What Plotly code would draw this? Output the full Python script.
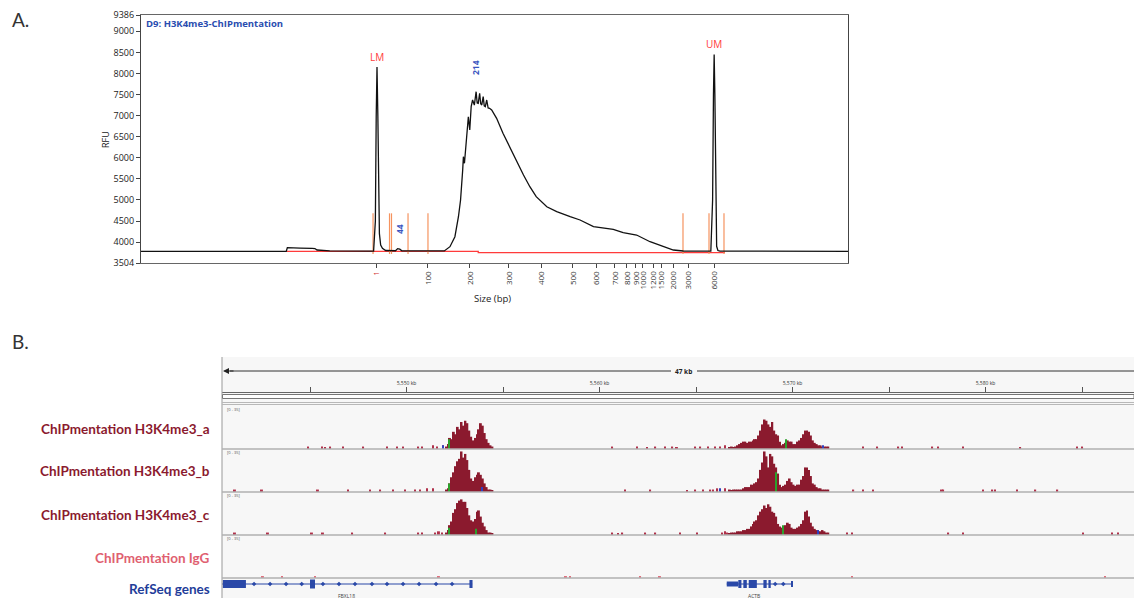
import plotly.graph_objects as go

W, H = 1134, 598


def fx(p):
    return p / W


def fy(p):
    return 1 - p / H


# ---------------- Panel A: electropherogram data ----------------
ladder_labels = ["1", "100", "200", "300", "400", "500", "600", "700", "800", "900",
                 "1000", "1200", "1500", "2000", "3000", "6000"]
ladder_migration = [33.24, 40.59, 46.53, 52.05, 56.58, 61.10, 64.36, 67.04, 68.74, 70.01,
                    71.0, 72.42, 73.55, 75.25, 77.37, 81.05]
rfu_ticks = [3504, 4000, 4500, 5000, 5500, 6000, 6500, 7000, 7500, 8000, 8500, 9000, 9386]

trace_mig = [0, 20.55, 20.7, 21.2, 22.5, 24.2, 24.6, 24.9, 25.3, 25.8, 26.7,
             32.9, 33.15, 33.27, 33.38, 33.5, 33.6, 33.72, 33.9, 34.15, 34.6,
             36.0, 36.3, 36.6, 36.9,
             42.9, 43.7, 44.4, 44.9, 45.2, 45.5, 45.6, 45.75, 46.1, 46.3, 46.5, 46.7, 46.9,
             47.15, 47.4, 47.55, 47.7, 47.9, 48.05, 48.2, 48.4, 48.55, 48.7, 48.9, 49.1, 49.3,
             49.6, 50.3, 51.2, 52.2, 53.1,
             54.1, 55.0, 55.9, 57.4, 58.8, 60.7, 62.1, 64.0, 65.4, 66.8, 68.2, 70.1, 72.0,
             73.9, 75.3, 76.7, 77.7, 78.4,
             80.6, 80.85, 80.97, 81.07, 81.17, 81.28, 81.42, 81.6, 81.9, 100]
trace_rfu = [3782, 3782, 3868, 3862, 3856, 3850, 3846, 3812, 3805, 3808, 3790,
             3788, 4500, 7000, 8150, 7000, 5200, 4200, 3930, 3850, 3800,
             3795, 3845, 3832, 3795,
             3790, 3891, 4128, 4602, 4998, 5710, 6025, 5869, 6737, 6974, 6659, 7211, 7370,
             7250, 7567, 7300, 7292, 7529, 7280, 7252, 7449, 7230, 7211, 7370, 7180, 7173,
             7133, 6935, 6580, 6225, 5907,
             5591, 5314, 5077, 4839, 4721, 4602, 4524, 4365, 4327, 4303, 4223, 4168, 4009,
             3891, 3812, 3789, 3795, 3786,
             3788, 5000, 7500, 8450, 7500, 5000, 3900, 3800, 3785, 3780]
assert len(trace_mig) == len(trace_rfu)

baseline_mig = [20.6, 47.7, 47.7, 82.6]
baseline_rfu = [3778, 3778, 3752, 3752]

marker_mig = [32.82, 35.15, 35.43, 37.77, 40.59, 76.66, 80.34, 82.46]
marker_low, marker_high = 3717, 4682

peak_labels = ["LM", "214", "44", "UM"]
peak_label_mig = [33.38, 47.4, 36.5, 81.07]
peak_label_rfu = [8150, 8130, 4310, 8450]

# ---------------- Panel B: genome browser data (kb) ----------------
view_start, view_end = 5540.44, 5587.69
ruler_ticks = [5545, 5550, 5555, 5560, 5565, 5570, 5575, 5580, 5585]
ruler_labels = ["", "5,550 kb", "", "5,560 kb", "", "5,570 kb", "", "5,580 kb", ""]

bin_kb = 0.1
peak1_start = 5552.0
peak2_start = 5566.7

a_peak1 = [2, 4, 9, 8, 14, 12, 18, 16, 22, 19, 23, 21, 15, 10, 7, 9, 12, 16, 21, 19, 13, 8, 5, 3, 2]
b_peak1 = [2, 3, 7, 12, 16, 21, 25, 27, 33, 28, 31, 26, 18, 11, 9, 12, 14, 16, 14, 11, 7, 4, 2, 2, 1]
c_peak1 = [2, 4, 8, 11, 18, 21, 26, 28, 29, 27, 27, 22, 16, 12, 11, 13, 19, 20, 15, 10, 7, 4, 2, 2, 1]

a_peak2 = [1, 2, 1, 2, 3, 4, 5, 6, 6, 5, 6, 6, 7, 8, 8, 11, 15, 20, 24, 23, 20, 18, 22, 15, 12, 11,
           6, 3, 4, 5, 7, 6, 6, 4, 4, 6, 7, 9, 12, 15, 15, 14, 11, 7, 5, 4, 3, 3, 2, 2, 2, 2]
b_peak2 = [2, 1, 2, 2, 2, 2, 2, 3, 4, 4, 4, 6, 6, 7, 8, 11, 18, 24, 33, 29, 20, 31, 29, 23, 20, 15,
           6, 4, 5, 6, 9, 11, 8, 6, 5, 6, 6, 10, 13, 20, 20, 18, 13, 7, 6, 4, 3, 3, 2, 2, 2, 2]
c_peak2 = [1, 2, 2, 2, 3, 3, 3, 4, 4, 5, 5, 7, 9, 11, 12, 16, 19, 21, 24, 22, 25, 23, 19, 18, 15, 9,
           7, 6, 7, 8, 10, 9, 6, 5, 5, 6, 7, 9, 12, 19, 20, 15, 10, 7, 5, 4, 3, 3, 4, 3, 2, 2]

a_sparse_kb = [5544.90, 5545.62, 5545.78, 5546.04, 5546.71, 5547.75, 5548.99, 5549.51, 5549.82,
               5550.60, 5550.80, 5551.37, 5551.58, 5551.89, 5560.65, 5561.94, 5562.46, 5562.88,
               5563.39, 5563.76, 5564.01, 5564.95, 5565.21, 5565.62, 5565.98, 5566.24, 5566.50,
               5573.65, 5574.38, 5575.47, 5575.67, 5577.23, 5577.54, 5578.83, 5581.79, 5584.74, 5585.0]
a_sparse_val = [2, 2, 1, 2, 2, 2, 2, 2, 2, 2, 2, 3, 2, 3, 2, 2, 1, 2, 2, 2, 1, 2, 2, 2, 2, 2, 3,
                2, 2, 2, 2, 2, 2, 2, 1, 2, 2]
b_sparse_kb = [5541.11, 5542.51, 5545.41, 5546.97, 5548.11, 5548.63, 5549.30, 5549.92, 5550.44,
               5550.70, 5551.06, 5551.37, 5561.32, 5562.62, 5564.53, 5564.95, 5565.36, 5565.73,
               5565.88, 5566.09, 5566.50, 5573.14, 5573.65, 5574.17, 5577.74, 5577.80, 5579.87,
               5580.34, 5580.49, 5581.63, 5582.57, 5583.71]
b_sparse_val = [2, 2, 2, 2, 2, 2, 2, 2, 2, 2, 3, 3, 2, 2, 1, 2, 2, 2, 2, 3, 3, 2, 2, 2, 2, 2, 2,
                2, 2, 2, 2, 2]
c_sparse_kb = [5541.11, 5542.82, 5545.10, 5545.67, 5547.18, 5548.89, 5550.60, 5550.80, 5551.48,
               5551.68, 5551.84, 5560.65, 5560.96, 5561.17, 5562.36, 5562.88, 5564.17, 5565.05,
               5566.35, 5566.50, 5566.61, 5572.82, 5573.08, 5578.06, 5578.83, 5585.05, 5586.55,
               5586.86]
c_sparse_val = [2, 2, 2, 2, 2, 2, 2, 2, 2, 3, 2, 2, 1, 2, 2, 2, 2, 2, 2, 3, 2, 2, 2, 2, 2, 2, 2, 2]
igg_sparse_kb = [5542.56, 5543.55, 5545.26, 5551.68, 5558.26, 5558.47, 5562.10, 5563.13,
                 5573.08, 5586.19]
igg_sparse_val = [1, 1, 1, 1, 1, 1, 1, 1, 1, 1]

a_mismatch_kb = [5551.9, 5552.2, 5569.66, 5571.58]
a_mismatch_val = [3, 8, 8, 3]
a_mismatch_col = ["#3040c0", "#2ca02c", "#2ca02c", "#3040c0"]
b_mismatch_kb = [5552.2, 5566.24, 5569.14, 5553.9]
b_mismatch_val = [7, 3, 16, 4]
b_mismatch_col = ["#2ca02c", "#3040c0", "#2ca02c", "#3040c0"]
c_mismatch_kb = [5552.2, 5569.5, 5571.3, 5553.6]
c_mismatch_val = [6, 8, 4, 5]
c_mismatch_col = ["#2ca02c", "#2ca02c", "#3040c0", "#2ca02c"]

track_names = ["ChIPmentation H3K4me3_a", "ChIPmentation H3K4me3_b",
               "ChIPmentation H3K4me3_c", "ChIPmentation IgG", "RefSeq genes"]

fbxl18_span = [5540.44, 5553.40]
fbxl18_exon_start = [5540.48, 5545.00, 5553.26]
fbxl18_exon_end = [5541.68, 5545.26, 5553.42]
fbxl18_exon_half = [0.4, 0.45, 0.4]
fbxl18_chevrons = [5542.10, 5542.93, 5543.76, 5544.57, 5545.67, 5546.50, 5547.33, 5548.21,
                   5548.99, 5549.82, 5550.65, 5551.53, 5552.36]
actb_span = [5566.59, 5569.96]
actb_exon_start = [5566.59, 5567.19, 5567.45, 5567.73, 5568.49, 5568.75, 5569.94]
actb_exon_end = [5567.19, 5567.35, 5567.63, 5568.15, 5568.66, 5568.87, 5569.98]
actb_exon_half = [0.25, 0.4, 0.4, 0.4, 0.4, 0.4, 0.3]
actb_chevrons = [5569.10, 5569.52]
gene_names = ["FBXL18", "ACTB"]
gene_label_kb = [5546.9, 5568.0]

# ---------------- figure ----------------
fig = go.Figure()

fig.add_trace(go.Scatter(x=baseline_mig, y=baseline_rfu, mode="lines",
                         line=dict(color="#ff3b3b", width=1.3), xaxis="x", yaxis="y"))
mx, my = [], []
for m in marker_mig:
    mx += [m, m, None]
    my += [marker_low, marker_high, None]
fig.add_trace(go.Scatter(x=mx, y=my, mode="lines", line=dict(color="#f5935f", width=1.2),
                         xaxis="x", yaxis="y"))
fig.add_trace(go.Scatter(x=trace_mig, y=trace_rfu, mode="lines",
                         line=dict(color="#111111", width=1.3), xaxis="x", yaxis="y"))

red = "#8b1a2e"
tracks = [("y3", a_peak1, a_peak2, a_sparse_kb, a_sparse_val, a_mismatch_kb, a_mismatch_val, a_mismatch_col),
          ("y4", b_peak1, b_peak2, b_sparse_kb, b_sparse_val, b_mismatch_kb, b_mismatch_val, b_mismatch_col),
          ("y5", c_peak1, c_peak2, c_sparse_kb, c_sparse_val, c_mismatch_kb, c_mismatch_val, c_mismatch_col)]
for ya, p1, p2, skb, sval, mkb, mval, mcol in tracks:
    xs = [peak1_start + (i + 0.5) * bin_kb for i in range(len(p1))]
    xs += [peak2_start + (i + 0.5) * bin_kb for i in range(len(p2))]
    fig.add_trace(go.Bar(x=xs, y=p1 + p2, width=bin_kb, marker=dict(color=red, line=dict(width=0)),
                         xaxis="x2", yaxis=ya))
    fig.add_trace(go.Bar(x=skb, y=sval, width=0.1, marker=dict(color="#b0304a", line=dict(width=0)),
                         xaxis="x2", yaxis=ya))
    fig.add_trace(go.Bar(x=mkb, y=mval, width=0.05, marker=dict(color=mcol, line=dict(width=0)),
                         xaxis="x2", yaxis=ya))
fig.add_trace(go.Bar(x=igg_sparse_kb, y=igg_sparse_val, width=0.1,
                     marker=dict(color="#e0707e", line=dict(width=0)), xaxis="x2", yaxis="y6"))

gblue = "#2a49a8"
for span in [fbxl18_span, actb_span]:
    fig.add_trace(go.Scatter(x=span, y=[0, 0], mode="lines", line=dict(color=gblue, width=1.2),
                             xaxis="x2", yaxis="y7"))
for st, en, hh in [(fbxl18_exon_start, fbxl18_exon_end, fbxl18_exon_half),
                   (actb_exon_start, actb_exon_end, actb_exon_half)]:
    fig.add_trace(go.Bar(orientation="h", base=st, x=[e - s for s, e in zip(st, en)],
                         y=[0] * len(st), width=[2 * h for h in hh],
                         marker=dict(color=gblue, line=dict(width=0)), xaxis="x2", yaxis="y7"))
fig.add_trace(go.Scatter(x=fbxl18_chevrons + actb_chevrons, y=[0] * (len(fbxl18_chevrons) + len(actb_chevrons)),
                         mode="markers", marker=dict(symbol="diamond", size=3.5, color=gblue),
                         xaxis="x2", yaxis="y7"))

ann = []
ann.append(dict(x=fx(10), y=fy(20), xref="paper", yref="paper", text="A.", showarrow=False,
                xanchor="left", yanchor="middle", font=dict(family="Lato", size=19, color="#333")))
ann.append(dict(x=fx(10), y=fy(342), xref="paper", yref="paper", text="B.", showarrow=False,
                xanchor="left", yanchor="middle", font=dict(family="Lato", size=19, color="#333")))
ann.append(dict(x=fx(144), y=fy(15), xref="paper", yref="paper", text="<b>D9: H3K4me3-ChIPmentation</b>",
                showarrow=False, xanchor="left", yanchor="top",
                font=dict(family="Open Sans", size=9.5, color="#2a4db0")))
for lab, m, r in zip(peak_labels, peak_label_mig, peak_label_rfu):
    if lab in ("LM", "UM"):
        ann.append(dict(x=m, y=r, xref="x", yref="y", text=lab, showarrow=False, yanchor="bottom",
                        xanchor="center", yshift=1, font=dict(family="Open Sans", size=10, color="#ff3b3b")))
    else:
        ann.append(dict(x=m, y=r, xref="x", yref="y", text="<b>" + lab + "</b>", showarrow=False,
                        xanchor="center", yanchor="middle", textangle=-90,
                        font=dict(family="Open Sans", size=8.5, color="#3a55c0")))
ann.append(dict(x=fx(105), y=fy(140), xref="paper", yref="paper", text="RFU", showarrow=False,
                xanchor="center", yanchor="middle", textangle=-90,
                font=dict(family="Open Sans", size=9, color="#222")))
ann.append(dict(x=fx(492), y=fy(298), xref="paper", yref="paper", text="Size (bp)", showarrow=False,
                xanchor="center", yanchor="middle", font=dict(family="Open Sans", size=9.5, color="#222")))

label_cols = ["#8b1a2e", "#8b1a2e", "#8b1a2e", "#e06070", "#1f3d99"]
label_y = [429, 471, 515, 558, 589]
for name, col, yy in zip(track_names, label_cols, label_y):
    ann.append(dict(x=fx(212), y=fy(yy), xref="paper", yref="paper", text="<b>" + name + "</b>",
                    showarrow=False, xanchor="right", yanchor="middle",
                    font=dict(family="Lato", size=13.5, color=col)))
for yy in [409, 452, 495, 538]:
    ann.append(dict(x=fx(225), y=fy(yy), xref="paper", yref="paper", text="[0 - 35]", showarrow=False,
                    xanchor="left", yanchor="middle", font=dict(family="Open Sans", size=4, color="#555")))
for g, gx in zip(gene_names, gene_label_kb):
    ann.append(dict(x=gx, y=-1.2, xref="x2", yref="y7", text=g, showarrow=False,
                    xanchor="center", yanchor="middle", font=dict(family="Open Sans", size=5, color="#444")))
ann.append(dict(x=fx(683), y=fy(371), xref="paper", yref="paper", text="<b>47 kb</b>", showarrow=False,
                xanchor="center", yanchor="middle", bgcolor="#f7f7f7",
                font=dict(family="Open Sans", size=6.5, color="#222")))
ann.append(dict(x=fx(223), y=fy(371), xref="paper", yref="paper", text="", showarrow=True,
                ax=12, ay=0, arrowhead=2, arrowsize=1, arrowwidth=1.2, arrowcolor="#222"))

shapes = []
shapes.append(dict(type="rect", xref="paper", yref="paper", x0=fx(222), x1=1, y0=0, y1=fy(357),
                   fillcolor="#f7f7f7", line=dict(width=0), layer="below"))
shapes.append(dict(type="line", xref="paper", yref="paper", x0=fx(222), x1=fx(222), y0=0, y1=fy(357),
                   line=dict(color="#999", width=1)))
shapes.append(dict(type="line", xref="paper", yref="paper", x0=fx(230), x1=fx(671), y0=fy(371), y1=fy(371),
                   line=dict(color="#333", width=1)))
shapes.append(dict(type="line", xref="paper", yref="paper", x0=fx(697), x1=1, y0=fy(371), y1=fy(371),
                   line=dict(color="#333", width=1)))
shapes.append(dict(type="rect", xref="paper", yref="paper", x0=fx(222.5), x1=1, y0=fy(398.5), y1=fy(394.5),
                   fillcolor="white", line=dict(color="#777", width=1)))
for yy in [402.5, 404.5]:
    shapes.append(dict(type="line", xref="paper", yref="paper", x0=fx(222), x1=1, y0=fy(yy), y1=fy(yy),
                       line=dict(color="#b8b8b8", width=1)))
for yy in [449, 492, 535, 578]:
    shapes.append(dict(type="line", xref="paper", yref="paper", x0=fx(222), x1=1, y0=fy(yy), y1=fy(yy),
                       line=dict(color="#b0b0b0", width=1.5)))

tick_text = ["<span style='color:#d03030'>1</span>"] + ladder_labels[1:]

fig.update_layout(
    template="none",
    width=W, height=H, margin=dict(l=0, r=0, t=0, b=0, pad=0), autosize=False,
    paper_bgcolor="white", plot_bgcolor="rgba(0,0,0,0)",
    showlegend=False, hovermode=False, barmode="overlay",
    annotations=ann, shapes=shapes,
    xaxis=dict(domain=[fx(141), fx(848)], range=[0, 100], anchor="y", automargin=False,
               tickvals=ladder_migration, ticktext=tick_text, tickangle=-90,
               ticks="outside", ticklen=4, tickcolor="#444",
               tickfont=dict(family="Open Sans", size=8, color="#333"),
               showline=True, linecolor="#666", linewidth=1.2, mirror=True,
               showgrid=False, zeroline=False),
    yaxis=dict(domain=[fy(263), fy(15)], range=[3504, 9386], anchor="x", automargin=False,
               tickvals=rfu_ticks, ticks="outside", ticklen=4, tickcolor="#444",
               tickfont=dict(family="Open Sans", size=9, color="#222"),
               showline=True, linecolor="#444", linewidth=1.2, mirror=True,
               showgrid=False, zeroline=False),
    xaxis2=dict(domain=[fx(222), 1], range=[view_start, view_end], anchor="free",
                position=fy(392), side="top", automargin=False,
                tickvals=ruler_ticks, ticktext=ruler_labels, ticks="outside", ticklen=5,
                tickcolor="#555", tickfont=dict(family="Open Sans", size=5, color="#333"),
                showline=True, linecolor="#666", linewidth=1, showgrid=False, zeroline=False),
    yaxis3=dict(domain=[fy(449), fy(406)], range=[0, 35], visible=False, anchor="x2"),
    yaxis4=dict(domain=[fy(492), fy(449)], range=[0, 35], visible=False, anchor="x2"),
    yaxis5=dict(domain=[fy(535), fy(492)], range=[0, 35], visible=False, anchor="x2"),
    yaxis6=dict(domain=[fy(578), fy(535)], range=[0, 35], visible=False, anchor="x2"),
    yaxis7=dict(domain=[0, fy(578)], range=[-1.4, 0.6], visible=False, anchor="x2"),
)

fig.write_html("out.html", config={"displayModeBar": False},
               post_script="document.body.style.margin='0';document.body.style.overflow='hidden';")
